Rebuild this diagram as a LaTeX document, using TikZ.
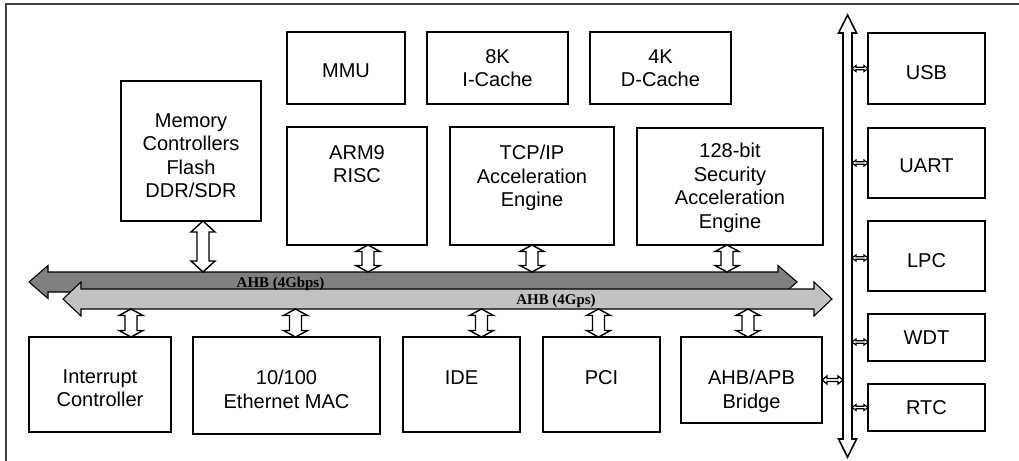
\documentclass[tikz,border=0pt]{standalone}
\usepackage{fontspec}
\usetikzlibrary{calc}
\newfontfamily\blkfont{Liberation Sans}
\newfontfamily\busfont{Liberation Serif}
\definecolor{busdark}{gray}{0.5}
\definecolor{buslight}{gray}{0.76}
\def\fatarrow[#1](#2)(#3)(#4:#5:#6){%
	\coordinate (faA) at (#2); \coordinate (faB) at (#3);
	\coordinate (faH) at ($(faA)!#6!(faB)$); \coordinate (faK) at ($(faB)!#6!(faA)$);
	\draw[#1] (faA) -- ($(faH)!#5!90:(faB)$) -- ($(faH)!#4!90:(faB)$) -- ($(faK)!#4!-90:(faA)$) -- ($(faK)!#5!-90:(faA)$) -- (faB) -- ($(faK)!#5!90:(faA)$) -- ($(faK)!#4!90:(faA)$) -- ($(faH)!#4!-90:(faB)$) -- ($(faH)!#5!-90:(faB)$) -- cycle;}

\begin{document}
\begin{tikzpicture}[
	blk/.style 2 args={draw, line width=1pt, anchor=south west, inner sep=0pt, outer sep=0pt, minimum width=#1, minimum height=#2},
	txt/.style={font=\blkfont\fontsize{11.4}{13.4}\selectfont, align=center, anchor=north, inner sep=0pt},
	conn/.style={fill=white, line width=0.8pt},
	bus/.style={line width=0.6pt},
	ahb/.style={font=\busfont\bfseries\fontsize{8.5}{10}\selectfont, anchor=base, inner sep=0pt}]
			%%%%% START %%%%%
			\useasboundingbox (0, 0) rectangle (20.38, 9.2);
			\clip (0, 0) rectangle (20.38, 9.2);
			\draw[line width=1pt, black!75] (0.12, -1) rectangle (21, 9.12);
			
			\node[blk={2.80cm}{2.80cm}, label={[txt, yshift=-0.64cm]north:{Memory\\Controllers\\Flash\\DDR/SDR}}] (mem) at (2.42, 4.78) {};
			\node[blk={2.36cm}{1.44cm}, label={[txt, yshift=-0.62cm]north:MMU}] (mmu) at (5.74, 7.12) {};
			\node[blk={2.82cm}{1.44cm}, label={[txt, yshift=-0.34cm]north:{8K\\I-Cache}}] (icache) at (8.54, 7.12) {};
			\node[blk={2.82cm}{1.44cm}, label={[txt, yshift=-0.34cm]north:{4K\\D-Cache}}] (dcache) at (11.80, 7.12) {};
			\node[blk={2.80cm}{2.36cm}, label={[txt, yshift=-0.36cm]north:{ARM9\\RISC}}] (arm) at (5.74, 4.30) {};
			\node[blk={3.28cm}{2.36cm}, label={[txt, yshift=-0.36cm]north:{TCP/IP\\Acceleration\\Engine}}] (tcp) at (9.00, 4.30) {};
			\node[blk={3.72cm}{2.34cm}, label={[txt, yshift=-0.30cm]north:{128-bit\\Security\\Acceleration\\Engine}}] (sec) at (12.74, 4.30) {};
			
			\node[blk={2.84cm}{1.90cm}, label={[txt, yshift=-0.64cm]north:{Interrupt\\Controller}}] (intr) at (0.58, 0.56) {};
			\node[blk={3.74cm}{1.94cm}, label={[txt, yshift=-0.66cm]north:{10/100\\Ethernet MAC}}] (eth) at (3.86, 0.52) {};
			\node[blk={2.34cm}{1.90cm}, label={[txt, yshift=-0.66cm]north:IDE}] (ide) at (8.06, 0.56) {};
			\node[blk={2.34cm}{1.90cm}, label={[txt, yshift=-0.66cm]north:PCI}] (pci) at (10.86, 0.56) {};
			\node[blk={2.82cm}{1.72cm}, label={[txt, yshift=-0.66cm]north:{AHB/APB\\Bridge}}] (bridge) at (13.62, 0.74) {};
			
			\node[blk={2.34cm}{1.42cm}, label={[txt, yshift=-0.64cm]north:USB}] (usb) at (17.36, 7.12) {};
			\node[blk={2.34cm}{1.40cm}, label={[txt, yshift=-0.60cm]north:UART}] (uart) at (17.36, 5.24) {};
			\node[blk={2.34cm}{1.40cm}, label={[txt, yshift=-0.64cm]north:LPC}] (lpc) at (17.36, 3.38) {};
			\node[blk={2.34cm}{0.94cm}, label={[txt, yshift=-0.32cm]north:WDT}] (wdt) at (17.36, 1.98) {};
			\node[blk={2.34cm}{0.94cm}, label={[txt, yshift=-0.32cm]north:RTC}] (rtc) at (17.36, 0.58) {};
			
			% the two AHB buses
			\coordinate (dbusW) at (0.58, 3.56); \coordinate (dbusE) at (15.94, 3.56);
			\coordinate (lbusW) at (1.26, 3.22); \coordinate (lbusE) at (16.64, 3.22);
			\coordinate (dtop) at (0, 3.76); \coordinate (lbot) at (0, 3.02);
			\fatarrow[bus, fill=busdark](dbusW)(dbusE)(0.2cm:0.33cm:0.38cm);
			\fatarrow[bus, fill=buslight](lbusW)(lbusE)(0.2cm:0.34cm:0.36cm);
			\node[ahb] (ahbA) at (5.61, 3.46) {AHB (4Gbps)};
			\node[ahb] (ahbB) at (11.12, 3.12) {AHB (4Gps)};
			
			\fatarrow[conn]([xshift=0.24cm]mem.south)([xshift=0.24cm]mem.south |- dtop)(0.12cm:0.24cm:0.22cm);
			\fatarrow[conn]([xshift=0.22cm]arm.south)([xshift=0.22cm]arm.south |- dtop)(0.12cm:0.24cm:0.13cm);
			\fatarrow[conn](tcp.south)(tcp.south |- dtop)(0.12cm:0.24cm:0.13cm);
			\fatarrow[conn]([xshift=-0.06cm]sec.south)([xshift=-0.06cm]sec.south |- dtop)(0.12cm:0.24cm:0.13cm);
			
			\fatarrow[conn]([xshift=0.62cm]intr.north |- lbot)([xshift=0.62cm]intr.north)(0.12cm:0.24cm:0.13cm);
			\fatarrow[conn]([xshift=0.18cm]eth.north |- lbot)([xshift=0.18cm]eth.north)(0.12cm:0.24cm:0.13cm);
			\fatarrow[conn]([xshift=0.40cm]ide.north |- lbot)([xshift=0.40cm]ide.north)(0.12cm:0.24cm:0.13cm);
			\fatarrow[conn]([xshift=-0.06cm]pci.north |- lbot)([xshift=-0.06cm]pci.north)(0.12cm:0.24cm:0.13cm);
			\fatarrow[conn]([xshift=-0.07cm]bridge.north |- lbot)([xshift=-0.07cm]bridge.north)(0.12cm:0.24cm:0.13cm);
			
			% peripheral bus
			\coordinate (pbusT) at (16.95, 8.90); \coordinate (pbusB) at (16.95, 0.06);
			\coordinate (pbusL) at (16.86, 0); \coordinate (pbusR) at (17.04, 0);
			\fatarrow[conn, line width=0.9pt](pbusT)(pbusB)(0.09cm:0.18cm:0.36cm);
			\fatarrow[conn, line width=0.7pt](bridge.east)(bridge.east -| pbusL)(0.03cm:0.08cm:0.1cm);
			\fatarrow[conn, line width=0.6pt](usb.west -| pbusR)(usb.west)(0.025cm:0.06cm:0.08cm);
			\fatarrow[conn, line width=0.6pt](uart.west -| pbusR)(uart.west)(0.025cm:0.06cm:0.08cm);
			\fatarrow[conn, line width=0.6pt]([yshift=-0.04cm]lpc.west -| pbusR)([yshift=-0.04cm]lpc.west)(0.025cm:0.06cm:0.08cm);
			\fatarrow[conn, line width=0.6pt]([yshift=-0.09cm]wdt.west -| pbusR)([yshift=-0.09cm]wdt.west)(0.025cm:0.06cm:0.08cm);
			\fatarrow[conn, line width=0.6pt](rtc.west -| pbusR)(rtc.west)(0.025cm:0.06cm:0.08cm);
			%%%%% END %%%%%
\end{tikzpicture}
\end{document}
